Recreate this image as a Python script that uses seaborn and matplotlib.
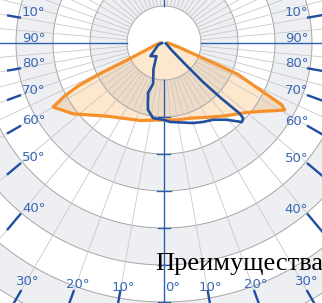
import numpy as np
import matplotlib
matplotlib.use("Agg")
import matplotlib.pyplot as plt
import seaborn as sns

# ---- data (angle from nadir in degrees, + = right; intensity, one ring = 100) ----
c0_angle = [-90, -75, -67, -65, -64.5, -63.5, -62, -60, -56, -52, -38, -17, 0,
            10, 20, 30, 40, 50, 55, 58, 61, 62.3, 64, 67, 68, 70, 75, 90]
c0_value = [11, 27, 68, 122, 184, 257, 303, 346, 327, 311, 251, 219, 208,
            211, 216, 232, 257, 292, 322, 346, 373, 359, 289, 216, 149, 81, 38, 11]

c90_angle = [-90, -72, -46, -30, -22, -15, -17.7, -15, -13.4, -8.3, 0, 4.3, 11.4,
             19.9, 26.3, 32.5, 39.3, 44.6, 46.5, 47, 46, 45, 45, 47, 80]
c90_value = [5, 16, 51, 41, 76, 114, 141, 168, 186, 205, 208, 214, 219,
             230, 238, 246, 268, 300, 295, 278, 216, 149, 81, 27, 5]

label_angles = [-100, -90, -80, -70, -60, -50, -40, -30, -20, -10, 0,
                10, 20, 30, 40, 50, 60, 70, 80, 90, 100]
label_texts = ["10°", "90°", "80°", "70°", "60°", "50°", "40°", "30°", "20°", "10°", "0°",
               "10°", "20°", "30°", "40°", "50°", "60°", "70°", "80°", "90°", "10°"]
ring_values = [100, 200, 300, 400, 500, 600, 700, 800]
title_text = "Преимущества"

# ---- layout helpers (pixels, y downward) ----
W, H = 322, 303
CX, CY = 164, 43
PX = 100 / 37.0          # data units per pixel
R_AX = 330
RMAX = R_AX * PX

ORANGE = "#f5902a"
FILL = "#f7931e"
BLUE = "#1f4f9e"
AXBLUE = "#2d5fae"
LBLUE = "#3a68b4"
BAND = "#eeeff3"
RING = "#a5a5a5"
RAY = "#c8c8c8"

fig = plt.figure(figsize=(W / 100, H / 100), dpi=100)
ax = fig.add_axes([(CX - R_AX) / W, (H - CY - R_AX) / H, 2 * R_AX / W, 2 * R_AX / H],
                  projection="polar")
ax.set_theta_zero_location("S")
ax.set_theta_direction(1)
ax.set_ylim(0, RMAX)

# alternating bands
for k in (1, 3, 5, 7):
    ax.bar(0, 100, width=2 * np.pi, bottom=k * 100, color=BAND, edgecolor="none",
           zorder=0)

# fill of C0 curve
ax.fill(np.deg2rad(c0_angle), c0_value, color=FILL, alpha=0.22, lw=0, zorder=1)

# rings
tt = np.linspace(0, 2 * np.pi, 721)
for rv in ring_values:
    ax.plot(tt, np.full_like(tt, rv), color=RING, lw=0.7, zorder=2)

# radial lines
for a in range(-180, 180, 5):
    if a in (0, 90, -90, -180):
        continue
    r1 = RMAX if (a % 10 == 0 or abs(a) >= 60) else 200
    ax.plot([np.deg2rad(a)] * 2, [100, r1], color=RAY, lw=0.6, zorder=2)

# blue axes
for a in (0, 90, -90, 180):
    ax.plot([np.deg2rad(a)] * 2, [100, RMAX], color=AXBLUE, lw=1.0, zorder=3)
for k in range(2, 9):
    d = 37 * k
    dx = np.array([-6.5, 6.5])
    ax.plot(np.arctan2(dx, d), np.hypot(dx, d) * PX, color=AXBLUE, lw=1.0, zorder=3)


def hit(a, left, right, bottom):
    s, c = np.sin(np.deg2rad(a)), np.cos(np.deg2rad(a))
    ts = []
    if s < -1e-9:
        ts.append((left - CX) / s)
    if s > 1e-9:
        ts.append((right - CX) / s)
    if c > 1e-9:
        ts.append((bottom - CY) / c)
    return min(ts)


def fig_xy(x, y):
    return x / W, 1 - y / H


lab_font = dict(family=["Liberation Sans Narrow", "DejaVu Sans"], fontsize=9.5,
                color=LBLUE)

for a, txt in zip(label_angles, label_texts):
    th = np.deg2rad(a)
    s, c = np.sin(th), np.cos(th)
    if a not in (0, 90, -90):
        t_in = hit(a, 21, 307, 290)
        t_out = hit(a, 7, 323, 312)
        ax.plot([th, th], [t_in * PX, t_out * PX], color=BLUE, lw=1.7,
                solid_capstyle="butt", zorder=4)
    if abs(a) >= 40:
        if a < 0:
            x = 21
            t = (x - CX) / s
            y = CY + t * c
            fig.text(*fig_xy(x + 1, y - 1.5), txt, ha="left", va="baseline", **lab_font)
        else:
            x = 308
            t = (x - CX) / s
            y = CY + t * c
            fig.text(*fig_xy(x, y - 1.5), txt, ha="right", va="baseline", **lab_font)
    else:
        yb = 291 - 3 * (abs(a) / 10 - 1) if a != 0 else 291
        t = (yb - CY) / c
        x = CX + t * s
        off = 9 if a == 0 else 3
        fig.text(*fig_xy(x + off, yb), txt, ha="center", va="baseline", **lab_font)

# curves
sns.lineplot(x=np.deg2rad(c0_angle), y=c0_value, sort=False, estimator=None, ax=ax,
             color=ORANGE, lw=2.3, zorder=5)
sns.lineplot(x=np.deg2rad(c90_angle), y=c90_value, sort=False, estimator=None, ax=ax,
             color=BLUE, lw=1.9, zorder=6)

ax.set_xticks([])
ax.set_yticks([])
ax.grid(False)
ax.spines["polar"].set_visible(False)
ax.set_xlabel("")
ax.set_ylabel("")

fig.text(*fig_xy(155, 270), title_text, ha="left", va="baseline",
         family=["Liberation Serif", "DejaVu Serif"], fontsize=19, color="black")

fig.savefig("out.png", dpi=100, facecolor="white")
